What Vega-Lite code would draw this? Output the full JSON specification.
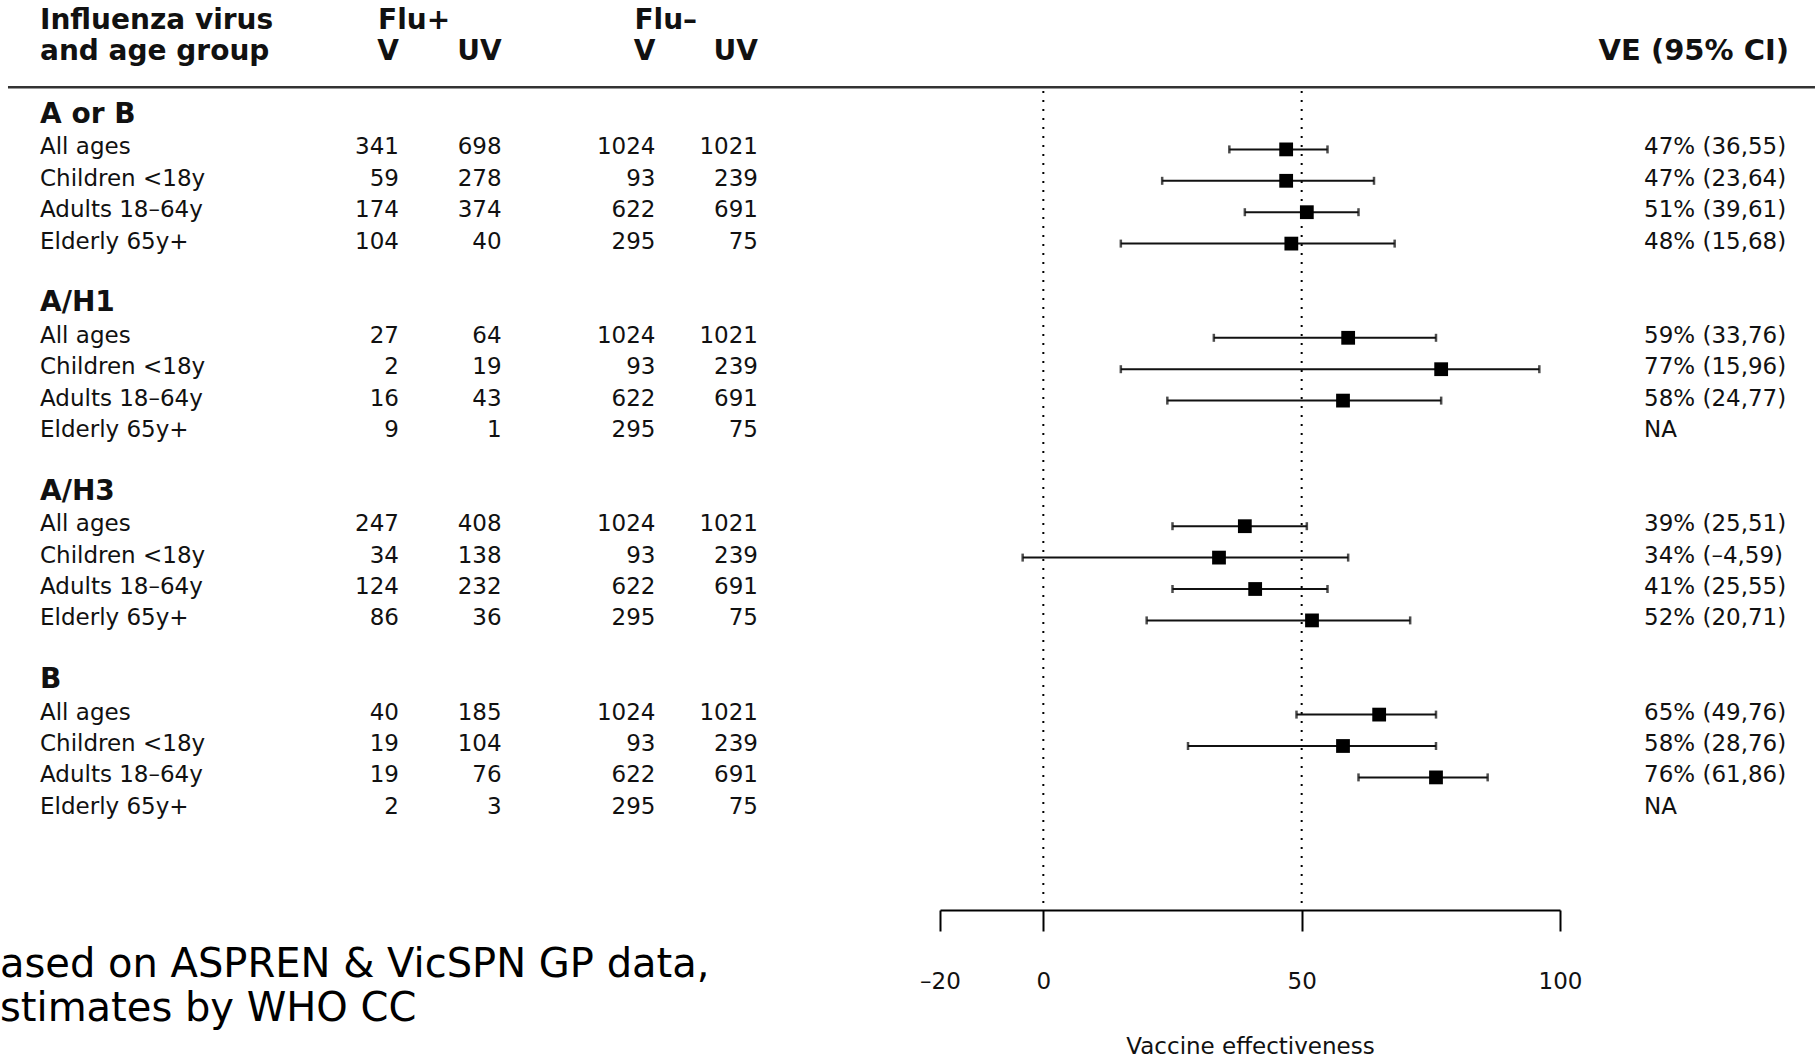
{
  "$schema": "https://vega.github.io/schema/vega-lite/v6.json",
  "padding": 0,
  "bounds": "flush",
  "spacing": 0,
  "config": {"view": {"stroke": null}, "font": "DejaVu Sans"},
  "datasets": {
    "rows": [
      {"row": 0, "label": "A or B", "kind": "group"},
      {"row": 1, "label": "All ages", "kind": "item", "vp": 341, "uvp": 698, "vn": 1024, "uvn": 1021, "ve": 47, "lo": 36, "hi": 55, "ci": "47% (36,55)"},
      {"row": 2, "label": "Children <18y", "kind": "item", "vp": 59, "uvp": 278, "vn": 93, "uvn": 239, "ve": 47, "lo": 23, "hi": 64, "ci": "47% (23,64)"},
      {"row": 3, "label": "Adults 18–64y", "kind": "item", "vp": 174, "uvp": 374, "vn": 622, "uvn": 691, "ve": 51, "lo": 39, "hi": 61, "ci": "51% (39,61)"},
      {"row": 4, "label": "Elderly 65y+", "kind": "item", "vp": 104, "uvp": 40, "vn": 295, "uvn": 75, "ve": 48, "lo": 15, "hi": 68, "ci": "48% (15,68)"},
      {"row": 6, "label": "A/H1", "kind": "group"},
      {"row": 7, "label": "All ages", "kind": "item", "vp": 27, "uvp": 64, "vn": 1024, "uvn": 1021, "ve": 59, "lo": 33, "hi": 76, "ci": "59% (33,76)"},
      {"row": 8, "label": "Children <18y", "kind": "item", "vp": 2, "uvp": 19, "vn": 93, "uvn": 239, "ve": 77, "lo": 15, "hi": 96, "ci": "77% (15,96)"},
      {"row": 9, "label": "Adults 18–64y", "kind": "item", "vp": 16, "uvp": 43, "vn": 622, "uvn": 691, "ve": 58, "lo": 24, "hi": 77, "ci": "58% (24,77)"},
      {"row": 10, "label": "Elderly 65y+", "kind": "item", "vp": 9, "uvp": 1, "vn": 295, "uvn": 75, "ve": null, "lo": null, "hi": null, "ci": "NA"},
      {"row": 12, "label": "A/H3", "kind": "group"},
      {"row": 13, "label": "All ages", "kind": "item", "vp": 247, "uvp": 408, "vn": 1024, "uvn": 1021, "ve": 39, "lo": 25, "hi": 51, "ci": "39% (25,51)"},
      {"row": 14, "label": "Children <18y", "kind": "item", "vp": 34, "uvp": 138, "vn": 93, "uvn": 239, "ve": 34, "lo": -4, "hi": 59, "ci": "34% (–4,59)"},
      {"row": 15, "label": "Adults 18–64y", "kind": "item", "vp": 124, "uvp": 232, "vn": 622, "uvn": 691, "ve": 41, "lo": 25, "hi": 55, "ci": "41% (25,55)"},
      {"row": 16, "label": "Elderly 65y+", "kind": "item", "vp": 86, "uvp": 36, "vn": 295, "uvn": 75, "ve": 52, "lo": 20, "hi": 71, "ci": "52% (20,71)"},
      {"row": 18, "label": "B", "kind": "group"},
      {"row": 19, "label": "All ages", "kind": "item", "vp": 40, "uvp": 185, "vn": 1024, "uvn": 1021, "ve": 65, "lo": 49, "hi": 76, "ci": "65% (49,76)"},
      {"row": 20, "label": "Children <18y", "kind": "item", "vp": 19, "uvp": 104, "vn": 93, "uvn": 239, "ve": 58, "lo": 28, "hi": 76, "ci": "58% (28,76)"},
      {"row": 21, "label": "Adults 18–64y", "kind": "item", "vp": 19, "uvp": 76, "vn": 622, "uvn": 691, "ve": 76, "lo": 61, "hi": 86, "ci": "76% (61,86)"},
      {"row": 22, "label": "Elderly 65y+", "kind": "item", "vp": 2, "uvp": 3, "vn": 295, "uvn": 75, "ve": null, "lo": null, "hi": null, "ci": "NA"}
    ],
    "header": [
      {"row": -3, "column": "label", "text": "Influenza virus"},
      {"row": -2, "column": "label", "text": "and age group"},
      {"row": -3, "column": "vp", "text": "Flu+"},
      {"row": -3, "column": "vn", "text": "Flu–"},
      {"row": -2, "column": "vp", "text": "V"},
      {"row": -2, "column": "uvp", "text": "UV"},
      {"row": -2, "column": "vn", "text": "V"},
      {"row": -2, "column": "uvn", "text": "UV"}
    ],
    "separator": [{"row": -0.98, "from": -200.39, "to": 149.35}]
  },
  "hconcat": [
    {
      "width": 940,
      "height": 910,
      "title": {"text": ["ased on ASPREN & VicSPN GP data,", "stimates by WHO CC"], "orient": "bottom", "anchor": "start", "frame": "group", "offset": 35, "fontSize": 40, "fontWeight": "normal", "lineHeight": 44, "color": "#000"},
      "layer": [
        {
          "data": {"name": "header"},
          "transform": [{"filter": "datum.column == 'label'"}],
          "mark": {"type": "text", "align": "left", "baseline": "alphabetic", "dy": 5, "fontSize": 28, "fontWeight": "bold", "color": "#111"},
          "encoding": {
            "x": {"field": "column", "type": "nominal", "scale": {"type": "point", "domain": ["label", "s1", "s2", "s3", "s4", "s5", "s6", "vp", "s7", "uvp", "s8", "s9", "vn", "s10", "uvn"], "range": [40, 758], "padding": 0}, "axis": null},
            "y": {"field": "row", "type": "quantitative", "scale": {"domain": [-3.758, 25.223], "reverse": true, "nice": false, "zero": false}, "axis": null},
            "text": {"field": "text"}
          }
        },
        {
          "data": {"name": "header"},
          "transform": [{"filter": "datum.column != 'label' && datum.row == -2"}],
          "mark": {"type": "text", "align": "right", "baseline": "alphabetic", "dy": 5, "fontSize": 28, "fontWeight": "bold", "color": "#111"},
          "encoding": {
            "x": {"field": "column", "type": "nominal", "scale": {"type": "point", "domain": ["label", "s1", "s2", "s3", "s4", "s5", "s6", "vp", "s7", "uvp", "s8", "s9", "vn", "s10", "uvn"], "range": [40, 758], "padding": 0}, "axis": null},
            "y": {"field": "row", "type": "quantitative", "scale": {"domain": [-3.758, 25.223], "reverse": true, "nice": false, "zero": false}, "axis": null},
            "text": {"field": "text"}
          }
        },
        {
          "data": {"name": "header"},
          "transform": [{"filter": "datum.column != 'label' && datum.row == -3"}],
          "mark": {"type": "text", "align": "left", "baseline": "alphabetic", "dy": 5, "dx": -21, "fontSize": 28, "fontWeight": "bold", "color": "#111"},
          "encoding": {
            "x": {"field": "column", "type": "nominal", "scale": {"type": "point", "domain": ["label", "s1", "s2", "s3", "s4", "s5", "s6", "vp", "s7", "uvp", "s8", "s9", "vn", "s10", "uvn"], "range": [40, 758], "padding": 0}, "axis": null},
            "y": {"field": "row", "type": "quantitative", "scale": {"domain": [-3.758, 25.223], "reverse": true, "nice": false, "zero": false}, "axis": null},
            "text": {"field": "text"}
          }
        },
        {
          "data": {"name": "rows"},
          "transform": [{"filter": "datum.kind == 'group'"}],
          "mark": {"type": "text", "align": "left", "baseline": "alphabetic", "dy": 5, "fontSize": 28, "fontWeight": "bold", "color": "#111"},
          "encoding": {
            "x": {"datum": "label", "type": "nominal", "scale": {"type": "point", "domain": ["label", "s1", "s2", "s3", "s4", "s5", "s6", "vp", "s7", "uvp", "s8", "s9", "vn", "s10", "uvn"], "range": [40, 758], "padding": 0}, "axis": null},
            "y": {"field": "row", "type": "quantitative", "scale": {"domain": [-3.758, 25.223], "reverse": true, "nice": false, "zero": false}, "axis": null},
            "text": {"field": "label"}
          }
        },
        {
          "data": {"name": "rows"},
          "transform": [{"filter": "datum.kind == 'item'"}],
          "mark": {"type": "text", "align": "left", "baseline": "alphabetic", "dy": 5, "fontSize": 23, "color": "#111"},
          "encoding": {
            "x": {"datum": "label", "type": "nominal", "scale": {"type": "point", "domain": ["label", "s1", "s2", "s3", "s4", "s5", "s6", "vp", "s7", "uvp", "s8", "s9", "vn", "s10", "uvn"], "range": [40, 758], "padding": 0}, "axis": null},
            "y": {"field": "row", "type": "quantitative", "scale": {"domain": [-3.758, 25.223], "reverse": true, "nice": false, "zero": false}, "axis": null},
            "text": {"field": "label"}
          }
        },
        {
          "data": {"name": "rows"},
          "transform": [{"filter": "datum.kind == 'item'"}, {"fold": ["vp", "uvp", "vn", "uvn"], "as": ["column", "n"]}],
          "mark": {"type": "text", "align": "right", "baseline": "alphabetic", "dy": 5, "fontSize": 23, "color": "#111"},
          "encoding": {
            "x": {"field": "column", "type": "nominal", "scale": {"type": "point", "domain": ["label", "s1", "s2", "s3", "s4", "s5", "s6", "vp", "s7", "uvp", "s8", "s9", "vn", "s10", "uvn"], "range": [40, 758], "padding": 0}, "axis": null},
            "y": {"field": "row", "type": "quantitative", "scale": {"domain": [-3.758, 25.223], "reverse": true, "nice": false, "zero": false}, "axis": null},
            "text": {"field": "n", "type": "quantitative", "format": "d"}
          }
        }
      ]
    },
    {
      "width": 620,
      "height": 910,
      "layer": [
        {
          "data": {"values": [{"ref": 0}, {"ref": 50}]},
          "mark": {"type": "rule", "strokeDash": [2, 7], "strokeWidth": 2, "color": "#000"},
          "encoding": {
            "x": {"field": "ref", "type": "quantitative", "title": "Vaccine effectiveness", "scale": {"domain": [-20, 100], "nice": false, "zero": false},
              "axis": {"values": [-20, 0, 50, 100], "grid": false, "domainColor": "#000", "domainWidth": 2, "tickColor": "#000", "tickWidth": 2, "tickSize": 21, "labelPadding": 39, "labelFontSize": 23, "labelColor": "#111", "labelFlush": false, "labelOverlap": false, "labelExpr": "datum.value < 0 ? '–' + abs(datum.value) : datum.label", "titleFontSize": 23, "titleFontWeight": "normal", "titleColor": "#111", "titlePadding": 42}},
            "y": {"datum": -0.86, "type": "quantitative", "scale": {"domain": [-3.758, 25.223], "reverse": true, "nice": false, "zero": false}, "axis": null},
            "y2": {"datum": 25.223}
          }
        },
        {
          "data": {"name": "separator"},
          "mark": {"type": "rule", "strokeWidth": 2.5, "color": "#333"},
          "encoding": {
            "x": {"field": "from", "type": "quantitative", "title": "Vaccine effectiveness", "scale": {"domain": [-20, 100], "nice": false, "zero": false}},
            "x2": {"field": "to"},
            "y": {"field": "row", "type": "quantitative", "scale": {"domain": [-3.758, 25.223], "reverse": true, "nice": false, "zero": false}, "axis": null}
          }
        },
        {
          "data": {"name": "rows"},
          "transform": [{"filter": "datum.ve != null"}],
          "mark": {"type": "errorbar", "ticks": {"size": 8, "thickness": 2.5, "color": "#000"}, "rule": {"strokeWidth": 2, "color": "#111"}},
          "encoding": {
            "x": {"field": "lo", "type": "quantitative", "title": "Vaccine effectiveness", "scale": {"domain": [-20, 100], "nice": false, "zero": false}},
            "x2": {"field": "hi"},
            "y": {"field": "row", "type": "quantitative", "scale": {"domain": [-3.758, 25.223], "reverse": true, "nice": false, "zero": false}, "axis": null}
          }
        },
        {
          "data": {"name": "rows"},
          "transform": [{"filter": "datum.ve != null"}],
          "mark": {"type": "point", "shape": "square", "filled": true, "size": 190, "color": "#000", "opacity": 1},
          "encoding": {
            "x": {"field": "ve", "type": "quantitative", "title": "Vaccine effectiveness", "scale": {"domain": [-20, 100], "nice": false, "zero": false}},
            "y": {"field": "row", "type": "quantitative", "scale": {"domain": [-3.758, 25.223], "reverse": true, "nice": false, "zero": false}, "axis": null}
          }
        }
      ]
    },
    {
      "width": 258,
      "height": 910,
      "layer": [
        {
          "data": {"values": [{"row": -2, "text": "VE (95% CI)"}]},
          "mark": {"type": "text", "align": "right", "baseline": "alphabetic", "dy": 5, "fontSize": 29, "fontWeight": "bold", "color": "#111"},
          "encoding": {
            "x": {"datum": "hdr", "type": "nominal", "scale": {"type": "point", "domain": ["ci", "hdr"], "range": [84, 229], "padding": 0}, "axis": null},
            "y": {"field": "row", "type": "quantitative", "scale": {"domain": [-3.758, 25.223], "reverse": true, "nice": false, "zero": false}, "axis": null},
            "text": {"field": "text"}
          }
        },
        {
          "data": {"name": "rows"},
          "transform": [{"filter": "datum.kind == 'item'"}],
          "mark": {"type": "text", "align": "left", "baseline": "alphabetic", "dy": 5, "fontSize": 23, "color": "#111"},
          "encoding": {
            "x": {"datum": "ci", "type": "nominal", "scale": {"type": "point", "domain": ["ci", "hdr"], "range": [84, 229], "padding": 0}, "axis": null},
            "y": {"field": "row", "type": "quantitative", "scale": {"domain": [-3.758, 25.223], "reverse": true, "nice": false, "zero": false}, "axis": null},
            "text": {"field": "ci"}
          }
        }
      ]
    }
  ]
}
